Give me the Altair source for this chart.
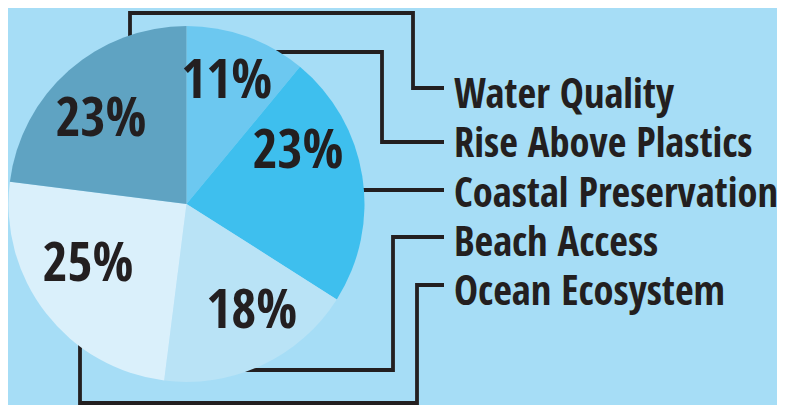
import math
import altair as alt
import pandas as pd

# ---------------- data ----------------
categories = ["Rise Above Plastics", "Coastal Preservation", "Beach Access",
              "Ocean Ecosystem", "Water Quality"]
values = [11, 23, 18, 25, 23]          # percent, clockwise from 12 o'clock
legend_order = ["Water Quality", "Rise Above Plastics", "Coastal Preservation",
                "Beach Access", "Ocean Ecosystem"]

# ---------------- styles / layout ----------------
slice_colors = ["#6cc8f0", "#3ebfee", "#b9e3f6", "#daf0fb", "#5fa3c2"]
BG = "#a6ddf6"
INK = "#231f20"
FONT = "Open Sans Condensed, Liberation Sans"
W, H = 769, 397
CX, CY, R = 186.5, 204.0, 178.0            # pie centre / radius (page pixels)
label_nudge_deg = [-1.5, -16, -6, 6, -4]   # hand placement of % labels
label_radius = [128, 123, 126, 116, 120]
legend_x, legend_first_baseline, legend_step = 454, 108, 49.3

# connector elbows (page pixels), one polyline per legend entry
connectors = {
    "Water Quality": [(130, 45), (130, 13), (413, 13), (413, 88), (444, 88)],
    "Rise Above Plastics": [(276, 52), (382, 52), (382, 142), (444, 142)],
    "Coastal Preservation": [(360, 190), (444, 190)],
    "Beach Access": [(240, 370), (393, 370), (393, 237), (444, 237)],
    "Ocean Ecosystem": [(80, 340), (80, 403), (417, 403), (417, 285), (444, 285)],
}

xs = alt.Scale(domain=[8, 8 + W], zero=False, nice=False)
ys = alt.Scale(domain=[8, 8 + H], zero=False, nice=False, reverse=True)

# ---------------- tables ----------------
pie = pd.DataFrame({"cat": categories, "value": values, "ord": range(len(values))})
tot = sum(values)
cum = 0
lx, ly, lab = [], [], []
for i, v in enumerate(values):
    mid = (cum + v / 2) / tot * 360 + label_nudge_deg[i]
    cum += v
    a = math.radians(mid)
    lx.append(CX + label_radius[i] * math.sin(a))
    ly.append(CY - label_radius[i] * math.cos(a))
    lab.append(f"{v}%")
pie["lx"], pie["ly"], pie["lab"] = lx, ly, lab

rows = []
for cat, pts in connectors.items():
    for j, (x, y) in enumerate(pts):
        rows.append({"id": cat, "i": j, "x": x, "y": y})
conn = pd.DataFrame(rows)

leg = pd.DataFrame({
    "name": legend_order,
    "x": [legend_x] * len(legend_order),
    "y": [legend_first_baseline + k * legend_step for k in range(len(legend_order))],
})

# ---------------- layers ----------------
lines = alt.Chart(conn).mark_line(color=INK, strokeWidth=3.8, strokeJoin="miter",
                                  strokeCap="butt").encode(
    x=alt.X("x:Q", scale=xs, axis=None),
    y=alt.Y("y:Q", scale=ys, axis=None),
    detail="id:N",
    order="i:Q",
)

arcs = alt.Chart(pie).mark_arc(outerRadius=R, strokeWidth=0).encode(
    theta=alt.Theta("value:Q", stack=True),
    color=alt.Color("cat:N", scale=alt.Scale(domain=categories, range=slice_colors), legend=None),
    order=alt.Order("ord:Q"),
    x=alt.value(CX - 8),
    y=alt.value(CY - 8),
)

pct = alt.Chart(pie).mark_text(font=FONT, fontWeight="bold", fontSize=54, color=INK,
                               align="center", baseline="middle").encode(
    x=alt.X("lx:Q", scale=xs, axis=None),
    y=alt.Y("ly:Q", scale=ys, axis=None),
    text="lab:N",
)

names = alt.Chart(leg).mark_text(font=FONT, fontWeight="bold", fontSize=40.5, color=INK,
                                 align="left", baseline="alphabetic").encode(
    x=alt.X("x:Q", scale=xs, axis=None),
    y=alt.Y("y:Q", scale=ys, axis=None),
    text="name:N",
)

chart = alt.layer(lines, arcs, pct, names).properties(
    width=W, height=H, padding=0, autosize=alt.AutoSizeParams(type="none")
).configure(background=BG).configure_view(stroke=None)

chart.save("out.html", embed_options={"renderer": "svg", "actions": False})
